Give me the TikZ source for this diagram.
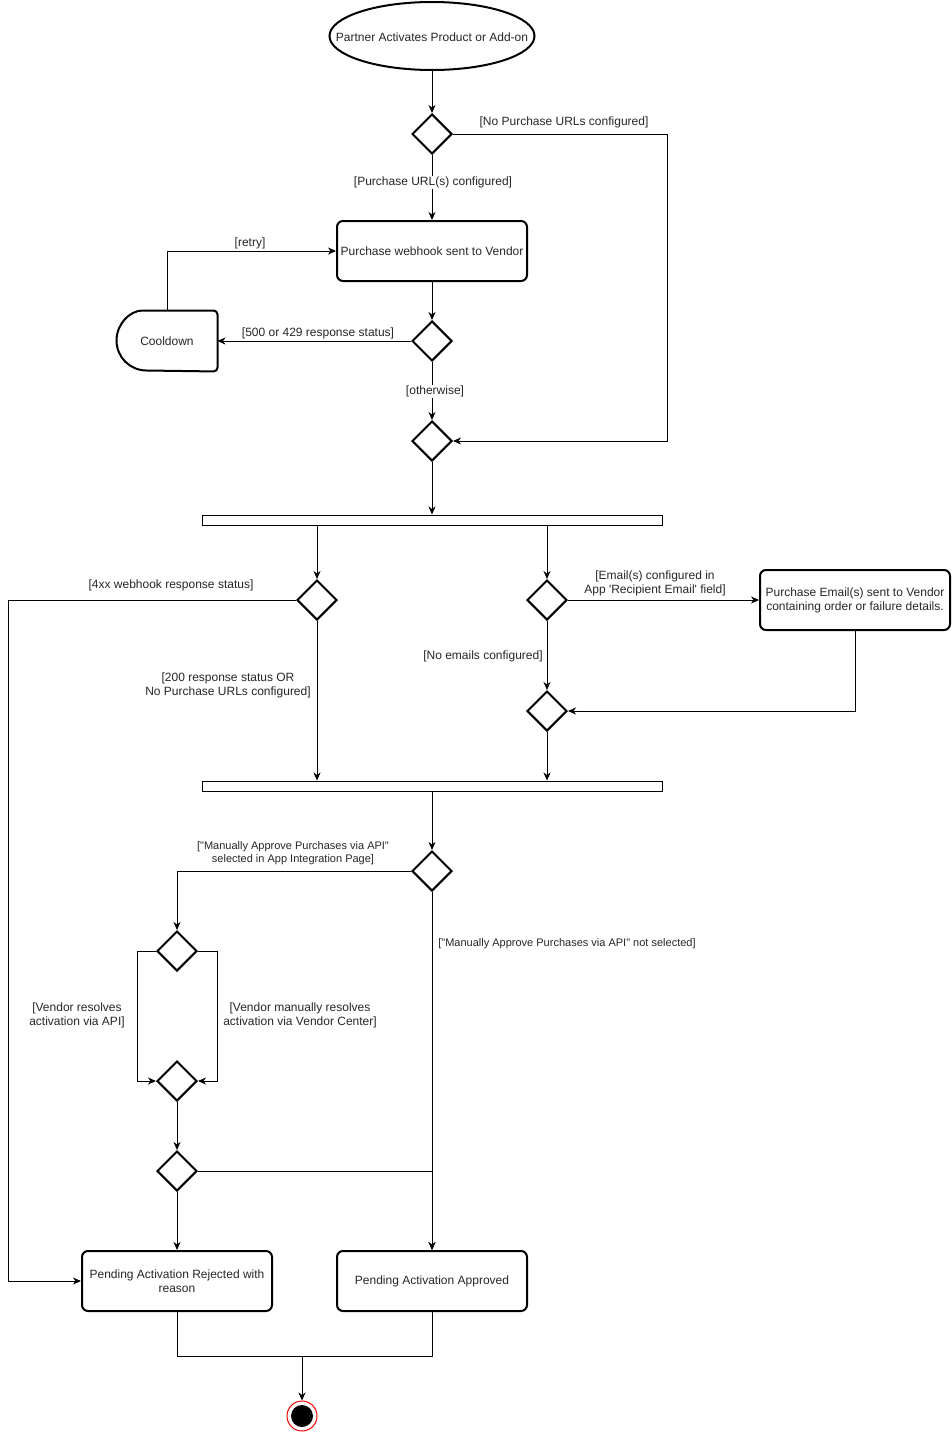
\documentclass[tikz,border=0pt]{standalone}
\usepackage{fontspec}
\newfontfamily\drawfont{Liberation Sans}
\usetikzlibrary{arrows.meta,shapes.geometric}

\tikzset{
  >={Stealth[length=8pt,width=7pt,inset=2.5pt]},
  decision/.style={diamond,draw,line width=2pt,minimum width=40pt,minimum height=40pt,inner sep=0pt},
  activity/.style={rectangle,rounded corners=6pt,draw,line width=2pt,minimum width=190pt,minimum height=60pt,align=center,inner sep=2pt},
  forkbar/.style={rectangle,draw,line width=1pt,fill=white,minimum width=460pt,minimum height=10pt,inner sep=0pt},
  startstate/.style={ellipse,draw,line width=2pt,minimum width=205pt,minimum height=68pt,inner sep=0pt},
  endstate/.style={circle,draw=red,line width=1pt,fill=white,minimum size=30pt,inner sep=0pt},
  guard/.style={align=center,inner sep=1pt,yshift=-1.5pt},
  smallguard/.style={guard,font=\drawfont\fontsize{11}{13}\selectfont},
}

\begin{document}
\begin{tikzpicture}[x=1pt,y=-1pt,line width=1pt,text=black!85,
  font=\drawfont\fontsize{12}{14}\selectfont]
\useasboundingbox (0,0) rectangle (952,1432);

\coordinate (nourlcorner) at (667,441);
\coordinate (rejcorner) at (8,1281);
\coordinate (apicorner) at (137,1081);
\coordinate (vccorner) at (217,1081);
\coordinate (merge) at (302,1356);

% states and decisions
\node[startstate,label={[yshift=-1pt]center:{Partner Activates Product or Add-on}}] (start) at (432,36) {};
\node[decision] (d1) at (432,134) {};
\node[activity] (hook) at (432,251) {Purchase webhook sent to Vendor};
\node[decision] (d2) at (432,341) {};
\node[minimum width=100pt,minimum height=60pt,inner sep=0pt] (cool) at (167,341) {Cooldown};
\draw[line width=2pt] ([xshift=30pt]cool.north west) arc[start angle=90,end angle=270,radius=30pt]
  [rounded corners=4pt] -- (cool.south east) -- (cool.north east) -- cycle;
\node[decision] (d3) at (432,441) {};
\node[forkbar] (fork1) at (432,520) {};
\node[decision] (d4) at (317,600) {};
\node[decision] (d5) at (547,600) {};
\node[activity] (mail) at (855,600) {Purchase Email(s) sent to Vendor\\containing order or failure details.};
\node[decision] (d6) at (547,711) {};
\node[forkbar] (join1) at (432,786) {};
\node[decision] (d7) at (432,871) {};
\node[decision] (d8) at (177,951) {};
\node[decision] (d9) at (177,1081) {};
\node[decision] (d10) at (177,1171) {};
\node[activity] (rej) at (177,1281) {Pending Activation Rejected with\\reason};
\node[activity] (appr) at (432,1281) {Pending Activation Approved};
\node[endstate] (final) at (302,1416) {};
\fill[black] (final.center) circle[radius=11pt];

% connectors
\draw[->] (start) -- (d1);
\draw[->] (d1.east) -| (nourlcorner) -- (d3.east);
\draw[->] (d1) -- (hook);
\draw[->] (hook) -- (d2);
\draw[->] (d2.west) -- (cool.east);
\draw[->] (cool.north) |- (hook.west);
\draw[->] (d2) -- (d3);
\draw[->] (d3) -- (fork1);
\draw[->] (d4 |- fork1.south) -- (d4);
\draw[->] (d5 |- fork1.south) -- (d5);
\draw[->] (d4.west) -| (rejcorner) -- (rej.west);
\draw[->] (d4) -- (d4 |- join1.north);
\draw[->] (d5.east) -- (mail.west);
\draw[->] (mail.south) |- (d6.east);
\draw[->] (d5) -- (d6);
\draw[->] (d6) -- (d6 |- join1.north);
\draw[->] (d7 |- join1.south) -- (d7);
\draw[->] (d7.west) -| (d8.north);
\draw[->] (d7) -- (appr);
\draw[->] (d8.west) -| (apicorner) -- (d9.west);
\draw[->] (d8.east) -| (vccorner) -- (d9.east);
\draw[->] (d9) -- (d10);
\draw[->] (d10.east) -| (appr.north);
\draw[->] (d10) -- (rej);
\draw (rej.south) |- (merge);
\draw (appr.south) |- (merge);
\draw[->] (merge) -- (final);

% guards
\node[guard] (lnourl) at (564,121) {[No Purchase URLs configured]};
\node[guard,fill=white] (lurl) at (433,181) {[Purchase URL(s) configured]};
\node[guard] (lretry) at (250,242) {[retry]};
\node[guard] (l500) at (318,332) {[500 or 429 response status]};
\node[guard,fill=white] (lother) at (435,390) {[otherwise]};
\node[guard] (l4xx) at (171,584) {[4xx webhook response status]};
\node[guard] (l200) at (228,684) {[200 response status OR\\No Purchase URLs configured]};
\node[guard] (lemail) at (655,582) {[Email(s) configured in\\App 'Recipient Email' field]};
\node[guard] (lnoemail) at (483,655) {[No emails configured]};
\node[smallguard] (lmanual) at (293,852) {["Manually Approve Purchases via API"\\selected in App Integration Page]};
\node[smallguard] (lnotsel) at (567,942) {["Manually Approve Purchases via API" not selected]};
\node[guard] (lapi) at (77,1014) {[Vendor resolves\\activation via API]};
\node[guard] (lvc) at (300,1014) {[Vendor manually resolves\\activation via Vendor Center]};
\end{tikzpicture}
\end{document}
